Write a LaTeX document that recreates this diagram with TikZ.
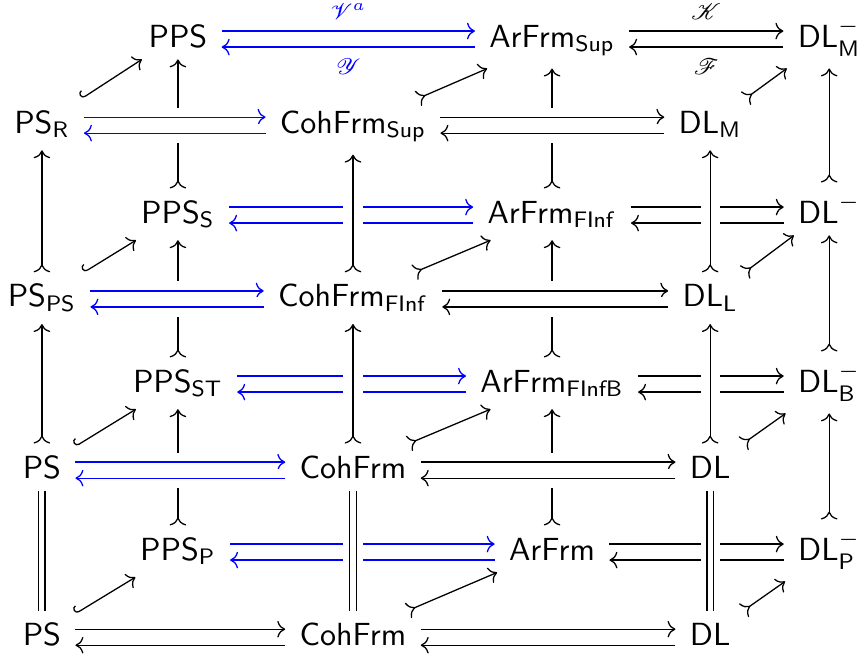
\documentclass[tikz,border=0pt]{standalone}
\usepackage{amsmath,amssymb,mathrsfs}
\usepackage{tikz}
\usetikzlibrary{arrows.meta,positioning}
\def\cat#1{\mathsf{#1}}

\begin{document}
\begin{tikzpicture}[>={Computer Modern Rightarrow}, obj/.style={anchor=base, inner xsep=1ex, inner ysep=0.85ex}, mono/.style={{Computer Modern Rightarrow[reversed]}->}, incl/.style={{Hooks[right]}->}, iso/.style={-, double, double distance=1.6pt}, cross/.style={preaction={draw=white, -, line width=6pt}}, auto]
	\useasboundingbox (0pt, 0pt) rectangle (268.1pt, -204.4pt);
	\draw (55.6pt, -14.7pt)node[obj](PPS){$\cat{PPS}$};
	\draw (172.5pt, -14.7pt)node[obj](ArFrmSup){$\cat{ArFrm}_{\cat{Sup}}$};
	\draw (259.1pt, -14.7pt)node[obj](DLMm){$\cat{DL}^-_{\cat{M}}$};
	\draw (13.1pt, -41.6pt)node[obj](PSR){$\cat{PS}_{\cat{R}}$};
	\draw (110.3pt, -41.6pt)node[obj](CohFrmSup){$\cat{CohFrm}_{\cat{Sup}}$};
	\draw (221.9pt, -41.6pt)node[obj](DLM){$\cat{DL}_{\cat{M}}$};
	\draw (55.6pt, -69.7pt)node[obj](PPSS){$\cat{PPS}_{\cat{S}}$};
	\draw (172.5pt, -69.7pt)node[obj](ArFrmFInf){$\cat{ArFrm}_{\cat{FInf}}$};
	\draw (259.1pt, -69.7pt)node[obj](DLm){$\cat{DL}^-$};
	\draw (13.1pt, -95.9pt)node[obj](PSPS){$\cat{PS}_{\cat{PS}}$};
	\draw (110.3pt, -95.9pt)node[obj](CohFrmFInf){$\cat{CohFrm}_{\cat{FInf}}$};
	\draw (221.9pt, -95.9pt)node[obj](DLL){$\cat{DL}_{\cat{L}}$};
	\draw (55.6pt, -122.5pt)node[obj](PPSST){$\cat{PPS}_{\cat{ST}}$};
	\draw (172.5pt, -122.5pt)node[obj](ArFrmFInfB){$\cat{ArFrm}_{\cat{FInfB}}$};
	\draw (259.1pt, -122.5pt)node[obj](DLBm){$\cat{DL}^-_{\cat{B}}$};
	\draw (13.1pt, -149.4pt)node[obj](PS){$\cat{PS}$};
	\draw (110.3pt, -149.4pt)node[obj](CohFrm){$\cat{CohFrm}$};
	\draw (221.9pt, -149.4pt)node[obj](DL){$\cat{DL}$};
	\draw (55.6pt, -175.0pt)node[obj](PPSP){$\cat{PPS}_{\cat{P}}$};
	\draw (172.5pt, -175.0pt)node[obj](ArFrm){$\cat{ArFrm}$};
	\draw (259.1pt, -175.0pt)node[obj](DLPm){$\cat{DL}^-_{\cat{P}}$};
	\draw (13.1pt, -201.6pt)node[obj](PSb){$\cat{PS}$};
	\draw (110.3pt, -201.6pt)node[obj](CohFrmb){$\cat{CohFrm}$};
	\draw (221.9pt, -201.6pt)node[obj](DLb){$\cat{DL}$};
	% back layer
	\path[mono] (PPSS) edge (PPS);
	\path[mono] (PPSST) edge (PPSS);
	\path[mono] (PPSP) edge (PPSST);
	\path[mono] (ArFrmFInf) edge (ArFrmSup);
	\path[mono] (ArFrmFInfB) edge (ArFrmFInf);
	\path[mono] (ArFrm) edge (ArFrmFInfB);
	\path[mono] (DLm) edge (DLMm);
	\path[mono] (DLBm) edge (DLm);
	\path[mono] (DLPm) edge (DLBm);
	\path[->, blue] ([yshift=5pt]PPS.base east) edge node{$\scriptstyle\mathscr{V}^a$}([yshift=5pt]ArFrmSup.base west);
	\path[->, blue] (ArFrmSup.base west) edge node{$\scriptstyle\mathscr{Y}$}(PPS.base east);
	\path[->] ([yshift=5pt]ArFrmSup.base east) edge node{$\scriptstyle\mathscr{K}$}([yshift=5pt]DLMm.base west);
	\path[->] (DLMm.base west) edge node{$\scriptstyle\mathscr{F}$}(ArFrmSup.base east);
	\path[->, blue] ([yshift=5pt]PPSS.base east) edge ([yshift=5pt]ArFrmFInf.base west);
	\path[->, blue] (ArFrmFInf.base west) edge (PPSS.base east);
	\path[->] ([yshift=5pt]ArFrmFInf.base east) edge ([yshift=5pt]DLm.base west);
	\path[->] (DLm.base west) edge (ArFrmFInf.base east);
	\path[->, blue] ([yshift=5pt]PPSST.base east) edge ([yshift=5pt]ArFrmFInfB.base west);
	\path[->, blue] (ArFrmFInfB.base west) edge (PPSST.base east);
	\path[->] ([yshift=5pt]ArFrmFInfB.base east) edge ([yshift=5pt]DLBm.base west);
	\path[->] (DLBm.base west) edge (ArFrmFInfB.base east);
	\path[->, blue] ([yshift=5pt]PPSP.base east) edge ([yshift=5pt]ArFrm.base west);
	\path[->, blue] (ArFrm.base west) edge (PPSP.base east);
	\path[->] ([yshift=5pt]ArFrm.base east) edge ([yshift=5pt]DLPm.base west);
	\path[->] (DLPm.base west) edge (ArFrm.base east);
	% front layer
	\path[->, blue] ([yshift=5pt]PSR.base east) edge[cross] ([yshift=5pt]CohFrmSup.base west);
	\path[->, blue] (CohFrmSup.base west) edge[cross] (PSR.base east);
	\path[->] ([yshift=5pt]CohFrmSup.base east) edge[cross] ([yshift=5pt]DLM.base west);
	\path[->] (DLM.base west) edge[cross] (CohFrmSup.base east);
	\path[->, blue] ([yshift=5pt]PSPS.base east) edge[cross] ([yshift=5pt]CohFrmFInf.base west);
	\path[->, blue] (CohFrmFInf.base west) edge[cross] (PSPS.base east);
	\path[->] ([yshift=5pt]CohFrmFInf.base east) edge[cross] ([yshift=5pt]DLL.base west);
	\path[->] (DLL.base west) edge[cross] (CohFrmFInf.base east);
	\path[->, blue] ([yshift=5pt]PS.base east) edge[cross] ([yshift=5pt]CohFrm.base west);
	\path[->, blue] (CohFrm.base west) edge[cross] (PS.base east);
	\path[->] ([yshift=5pt]CohFrm.base east) edge[cross] ([yshift=5pt]DL.base west);
	\path[->] (DL.base west) edge[cross] (CohFrm.base east);
	\path[->] ([yshift=5pt]PSb.base east) edge ([yshift=5pt]CohFrmb.base west);
	\path[->] (CohFrmb.base west) edge (PSb.base east);
	\path[->] ([yshift=5pt]CohFrmb.base east) edge ([yshift=5pt]DLb.base west);
	\path[->] (DLb.base west) edge (CohFrmb.base east);
	\path[mono] (PSPS) edge[cross] (PSR);
	\path[mono] (PS) edge[cross] (PSPS);
	\path (PS) edge[iso, cross] (PSb);
	\path[mono] (CohFrmFInf) edge[cross] (CohFrmSup);
	\path[mono] (CohFrm) edge[cross] (CohFrmFInf);
	\path (CohFrm) edge[iso, cross] (CohFrmb);
	\path[mono] (DLL) edge[cross] (DLM);
	\path[mono] (DL) edge[cross] (DLL);
	\path (DL) edge[iso, cross] (DLb);
	% front to back
	\path[incl] (PSR) edge (PPS);
	\path[incl] (PSPS) edge (PPSS);
	\path[incl] (PS) edge (PPSST);
	\path[incl] (PSb) edge (PPSP);
	\path[mono] (CohFrmSup) edge (ArFrmSup);
	\path[mono] (CohFrmFInf) edge (ArFrmFInf);
	\path[mono] (CohFrm) edge (ArFrmFInfB);
	\path[mono] (CohFrmb) edge (ArFrm);
	\path[mono] (DLM) edge (DLMm);
	\path[mono] (DLL) edge (DLm);
	\path[mono] (DL) edge (DLBm);
	\path[mono] (DLb) edge (DLPm);
\end{tikzpicture}
\end{document}
